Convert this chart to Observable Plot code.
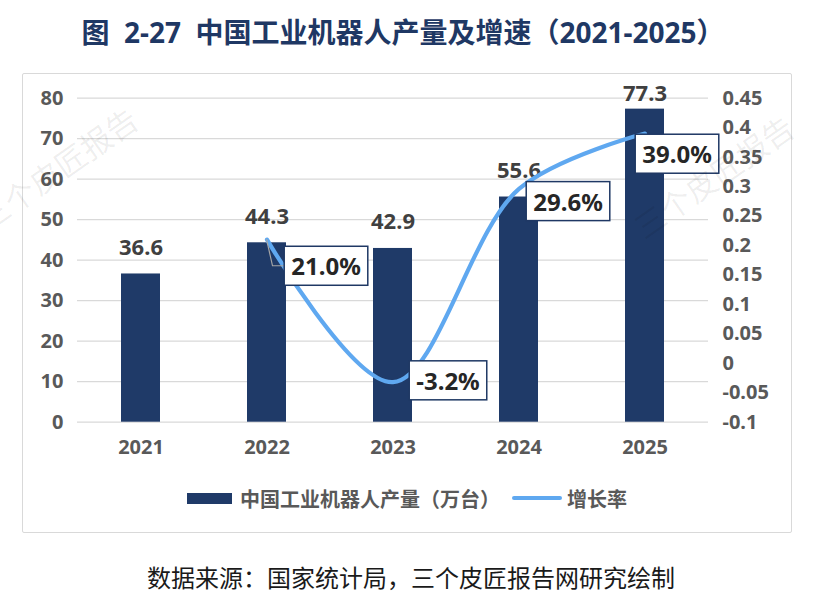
<!DOCTYPE html>
<html>
<head>
<meta charset="utf-8">
<script src="https://cdn.jsdelivr.net/npm/d3@7"></script>
<script src="https://cdn.jsdelivr.net/npm/@observablehq/plot@0.6"></script>
<style>
  html, body { margin: 0; padding: 0; background: #fff; }
  #page { position: relative; width: 828px; height: 603px; overflow: hidden;
          font-family: "Noto Sans", "Noto Sans CJK SC", sans-serif; }
  #title { position: absolute; left: 0; width: 806px; top: 13px; text-align: center;
           font-size: 28px; font-weight: 700; color: #1F3864; white-space: pre;
           font-family: "Noto Sans", "Noto Sans CJK SC", sans-serif; line-height: 38px; }
  #frame { position: absolute; left: 22px; top: 73px; width: 768px; height: 458px;
           border: 1.5px solid #d9d9d9; border-radius: 2px; }
  #chart { position: absolute; left: 0; top: 0; }
  #legend { position: absolute; left: 187px; top: 484px; height: 28px; display: flex; align-items: center;
            font-size: 20px; font-weight: 700; color: #595959; white-space: nowrap; }
  .sw-bar { width: 45px; height: 11px; background: #1F3A68; margin-right: 8px; }
  .sw-line { width: 50px; height: 4px; border-radius: 2px; background: #5FA8F0; margin: 0 5px 0 12px; }
  #source { position: absolute; left: 0; width: 822px; top: 562px; text-align: center;
            font-size: 24px; color: #1a1a1a; line-height: 32px; }
</style>
</head>
<body>
<div id="page">
  <div id="title">图  2-27  中国工业机器人产量及增速（2021-2025）</div>
  <div id="frame"></div>
  <div id="chart"></div>
  <div id="legend"><div class="sw-bar"></div><span>中国工业机器人产量（万台）</span><div class="sw-line"></div><span>增长率</span></div>
  <div id="source">数据来源：国家统计局，三个皮匠报告网研究绘制</div>
</div>
<script>
// ---- data ----
const years = ["2021", "2022", "2023", "2024", "2025"];
const output = [36.6, 44.3, 42.9, 55.6, 77.3];           // 万台
const growthYears = ["2022", "2023", "2024", "2025"];
const growth = [0.21, -0.032, 0.296, 0.39];              // 增长率
const growthLabels = ["21.0%", "-3.2%", "29.6%", "39.0%"];
const leftTicks = [0, 10, 20, 30, 40, 50, 60, 70, 80];
const rightTicks = [-0.1, -0.05, 0, 0.05, 0.1, 0.15, 0.2, 0.25, 0.3, 0.35, 0.4, 0.45];
const legendNames = ["中国工业机器人产量（万台）", "增长率"];
const watermark = "三个皮匠报告";

// ---- styling ----
const barColor = "#1F3A68";
const lineColor = "#5FA8F0";
const leftMax = 80, rMin = -0.1, rMax = 0.45;
const toLeft = r => (r - rMin) / (rMax - rMin) * leftMax;
const fromLeft = v => v / leftMax * (rMax - rMin) + rMin;

const barData = years.map((y, i) => ({year: y, value: output[i]}));
const growthData = growthYears.map((y, i) => ({year: y, rate: growth[i], label: growthLabels[i]}));
// label offsets (pixels) relative to each growth point
const labelOffsets = [[59, 28], [55, 0], [49, 14], [32, 22]];

const H = 470;
const chart = Plot.plot({
  width: 828,
  height: H,
  marginTop: 97.7,
  marginBottom: H - 421.7,
  marginLeft: 77,
  marginRight: 120,
  style: {fontFamily: '"Noto Sans", "Noto Sans CJK SC", sans-serif', background: "transparent", overflow: "visible"},
  x: {domain: years, paddingInner: 0.69, paddingOuter: 0.345, label: null},
  y: {domain: [0, leftMax], label: null},
  marks: [
    Plot.ruleY(leftTicks, {stroke: "#d9d9d9", strokeWidth: 1.2}),
    Plot.barY(barData, {x: "year", y: "value", fill: barColor}),
    Plot.axisY(leftTicks, {anchor: "left", tickSize: 0, tickPadding: 14, fontSize: 20, fontWeight: 700, fill: "#595959", label: null}),
    Plot.axisY(rightTicks.map(toLeft), {anchor: "right", tickSize: 0, tickPadding: 14, fontSize: 20, fontWeight: 700, fill: "#595959", label: null,
      tickFormat: d => String(+fromLeft(d).toFixed(2))}),
    Plot.axisX({tickSize: 0, tickPadding: 18, fontSize: 20, fontWeight: 700, fill: "#595959", label: null}),
    Plot.text(barData, {x: "year", y: d => Math.min(d.value + 6.5, 81.1), text: d => d.value.toFixed(1),
      fontSize: 22, fontWeight: 700, fill: "#404040"}),
    Plot.lineY(growthData, {x: "year", y: d => toLeft(d.rate), stroke: lineColor, strokeWidth: 4.2,
      curve: "catmull-rom", strokeLinecap: "round"}),
    ...growthData.map((d, i) => Plot.text([d], {x: "year", y: r => toLeft(r.rate), text: "label",
      dx: labelOffsets[i][0], dy: labelOffsets[i][1], fontSize: 24, fontWeight: 700, fill: "#262626",
      className: "glabel"}))
  ]
});
document.getElementById("chart").appendChild(chart);

// boxes behind growth labels + leader line for the first one
const ns = "http://www.w3.org/2000/svg";
const xs = chart.scale("x"), ys = chart.scale("y");
const svgBox = chart.getBoundingClientRect();
chart.querySelectorAll("g.glabel").forEach((g, i) => {
  g.querySelectorAll("text").forEach(t => {
    const bb = t.getBBox();
    const rect = document.createElementNS(ns, "rect");
    const px = 7, py = 3;
    rect.setAttribute("x", bb.x - px);
    rect.setAttribute("y", bb.y - py);
    rect.setAttribute("width", bb.width + 2 * px);
    rect.setAttribute("height", bb.height + 2 * py);
    rect.setAttribute("fill", "#fff");
    rect.setAttribute("stroke", "#1F3864");
    rect.setAttribute("stroke-width", "1.5");
    const tr = t.getAttribute("transform");
    if (tr) rect.setAttribute("transform", tr);
    t.parentNode.insertBefore(rect, t);
    if (i === 0) {
      const rb = rect.getBoundingClientRect();
      const cx = xs.apply(growthData[0].year) + xs.bandwidth / 2;
      const cy = ys.apply(toLeft(growthData[0].rate));
      const boxL = rb.left - svgBox.left, boxMid = rb.top - svgBox.top + rb.height / 2;
      const path = document.createElementNS(ns, "path");
      path.setAttribute("d", `M${cx},${cy} L${cx + 6},${boxMid} L${boxL},${boxMid}`);
      path.setAttribute("fill", "none");
      path.setAttribute("stroke", "#a6a6a6");
      path.setAttribute("stroke-width", "1.2");
      chart.insertBefore(path, chart.querySelector("g.glabel"));
    }
  });
});

// faint watermarks
[[60, 172], [716, 180]].forEach(([x, y]) => {
  const t = document.createElementNS(ns, "text");
  t.setAttribute("transform", `translate(${x},${y}) rotate(-35)`);
  t.setAttribute("text-anchor", "middle");
  t.setAttribute("dominant-baseline", "middle");
  t.setAttribute("font-size", "31");
  t.setAttribute("fill", "#000");
  t.setAttribute("fill-opacity", "0.07");
  t.textContent = watermark;
  chart.appendChild(t);
});
</script>
</body>
</html>
